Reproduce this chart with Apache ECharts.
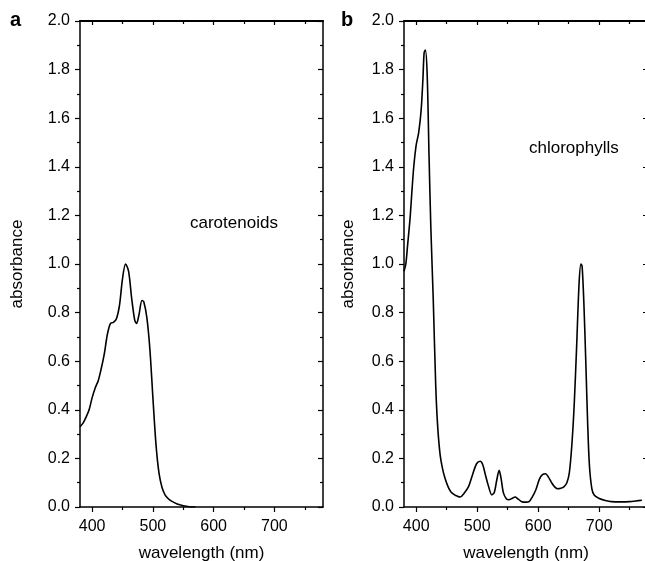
<!DOCTYPE html>
<html>
<head>
<meta charset="utf-8">
<script src="https://cdn.jsdelivr.net/npm/echarts@6/dist/echarts.min.js"></script>
<style>html,body{margin:0;padding:0;background:#fff}#c{width:645px;height:561px}</style>
</head>
<body>
<div id="c"></div>
<script>
// ---- data ----
const carWave = [380,385,390,395,400,405,410,415,420,425,430,435,440,445,450,455,460,465,470,473,477,482,485,490,495,500,505,510,515,520,525,530,540,550,560,570];
const carAbs  = [0.33,0.345,0.37,0.40,0.45,0.49,0.52,0.57,0.63,0.71,0.755,0.76,0.775,0.83,0.94,1.0,0.97,0.86,0.77,0.755,0.79,0.85,0.845,0.78,0.65,0.45,0.26,0.14,0.08,0.05,0.035,0.025,0.012,0.005,0.001,0];

const chlWave = [380,383,386,390,393,396,400,404,408,411,413,415,418,421,424,428,432,435,439,443,447,452,457,463,467,472,478,486,492,499,505,509,513,518,524,528,532,536,539,543,548,552,557,562,567,573,580,585,590,596,602,607,612,617,622,627,632,637,642,647,651,655,659,663,667,670,672,675,678,681,684,688,692,700,710,720,735,750,760,770];
const chlAbs  = [0.97,1.0,1.08,1.19,1.30,1.40,1.49,1.54,1.63,1.76,1.87,1.88,1.78,1.45,1.15,0.85,0.50,0.34,0.22,0.16,0.12,0.085,0.062,0.05,0.045,0.041,0.055,0.085,0.13,0.178,0.188,0.175,0.137,0.09,0.05,0.06,0.11,0.151,0.12,0.058,0.033,0.03,0.035,0.041,0.033,0.022,0.02,0.022,0.04,0.07,0.115,0.133,0.137,0.122,0.1,0.083,0.075,0.077,0.083,0.1,0.14,0.25,0.42,0.66,0.92,1.0,0.99,0.83,0.6,0.35,0.17,0.075,0.048,0.035,0.027,0.022,0.021,0.022,0.025,0.028];

const xMajor = [400,500,600,700];
const xMinor = [450,550,650,750];
const xMin = 380, xMax = 780;
const yMin = 0, yMax = 2, yStep = 0.2;

const panelLetters = ['a','b'];
const panelLabels = ['carotenoids','chlorophylls'];

// ---- chart ----
const FONT = 'Liberation Sans, Arial, sans-serif';
const BLACK = '#000';
const chart = echarts.init(document.getElementById('c'), null, {renderer:'canvas'});

const grids = [
  {left:80, top:21, width:243, height:486, containLabel:false, outerBoundsMode:'none'},
  {left:404, top:21, width:244, height:486, containLabel:false, outerBoundsMode:'none'}
];

function xAxesFor(g){
  const base = {gridIndex:g, type:'value', min:xMin, max:xMax, splitLine:{show:false}};
  return [
    Object.assign({}, base, {
      position:'bottom',
      axisLine:{show:true, lineStyle:{color:BLACK, width:1.5}},
      axisTick:{show:true, customValues:xMajor, length:5, lineStyle:{color:BLACK, width:1.2}},
      axisLabel:{show:true, customValues:xMajor, color:BLACK, fontSize:16, fontFamily:FONT, margin:12},
      name:'wavelength (nm)', nameLocation:'middle', nameGap:38,
      nameTextStyle:{color:BLACK, fontSize:17, fontFamily:FONT}
    }),
    Object.assign({}, base, {
      position:'bottom',
      axisLine:{show:false},
      axisTick:{show:true, customValues:xMinor, length:3, lineStyle:{color:BLACK, width:1.2}},
      axisLabel:{show:false}
    }),
    Object.assign({}, base, {
      position:'top',
      axisLine:{show:true, lineStyle:{color:BLACK, width:2.2}},
      axisTick:{show:true, inside:true, customValues:xMajor, length:4, lineStyle:{color:BLACK, width:1.2}},
      axisLabel:{show:false}
    }),
    Object.assign({}, base, {
      position:'top',
      axisLine:{show:false},
      axisTick:{show:true, inside:true, customValues:xMinor, length:3, lineStyle:{color:BLACK, width:1.2}},
      axisLabel:{show:false}
    })
  ];
}

function yAxesFor(g, gap){
  const base = {gridIndex:g, type:'value', min:yMin, max:yMax, interval:yStep, splitLine:{show:false}};
  return [
    Object.assign({}, base, {
      position:'left',
      axisLine:{show:true, lineStyle:{color:BLACK, width:1.5}},
      axisTick:{show:true, length:5, lineStyle:{color:BLACK, width:1.2}},
      minorTick:{show:true, splitNumber:2, length:3, lineStyle:{color:BLACK, width:1.2}},
      axisLabel:{show:true, color:BLACK, fontSize:16, fontFamily:FONT, margin:10,
                 formatter:v=>v.toFixed(1)},
      name:'absorbance', nameLocation:'middle', nameGap:gap, nameRotate:90,
      nameTextStyle:{color:BLACK, fontSize:17, fontFamily:FONT}
    }),
    Object.assign({}, base, {
      position:'right',
      axisLine:{show:true, lineStyle:{color:BLACK, width:1.5}},
      axisTick:{show:true, inside:true, length:5, lineStyle:{color:BLACK, width:1.2}},
      minorTick:{show:true, splitNumber:2, length:3, lineStyle:{color:BLACK, width:1.2}},
      axisLabel:{show:false}
    })
  ];
}

const xAxes = xAxesFor(0).concat(xAxesFor(1));
const yAxes = yAxesFor(0, 54).concat(yAxesFor(1, 47));

const toPairs = (xs, ys) => xs.map((x,i)=>[x, ys[i]]);

const option = {
  animation:false,
  backgroundColor:'#fff',
  title:[
    {text:panelLetters[0], left:10, top:10, padding:0, textStyle:{fontSize:20, fontWeight:'bold', color:BLACK, fontFamily:FONT}},
    {text:panelLetters[1], left:341, top:10, padding:0, textStyle:{fontSize:20, fontWeight:'bold', color:BLACK, fontFamily:FONT}},
    {text:panelLabels[0], left:190, top:215, padding:0, textStyle:{fontSize:17, fontWeight:'normal', color:BLACK, fontFamily:FONT}},
    {text:panelLabels[1], left:529, top:140, padding:0, textStyle:{fontSize:17, fontWeight:'normal', color:BLACK, fontFamily:FONT}}
  ],
  grid:grids,
  xAxis:xAxes,
  yAxis:yAxes,
  series:[
    {type:'line', xAxisIndex:0, yAxisIndex:0, data:toPairs(carWave, carAbs), smooth:0.3,
     showSymbol:false, symbol:'none', lineStyle:{color:BLACK, width:1.6}, clip:true},
    {type:'line', xAxisIndex:4, yAxisIndex:2, data:toPairs(chlWave, chlAbs), smooth:0.3,
     showSymbol:false, symbol:'none', lineStyle:{color:BLACK, width:1.6}, clip:true}
  ]
};
chart.setOption(option);
</script>
</body>
</html>
